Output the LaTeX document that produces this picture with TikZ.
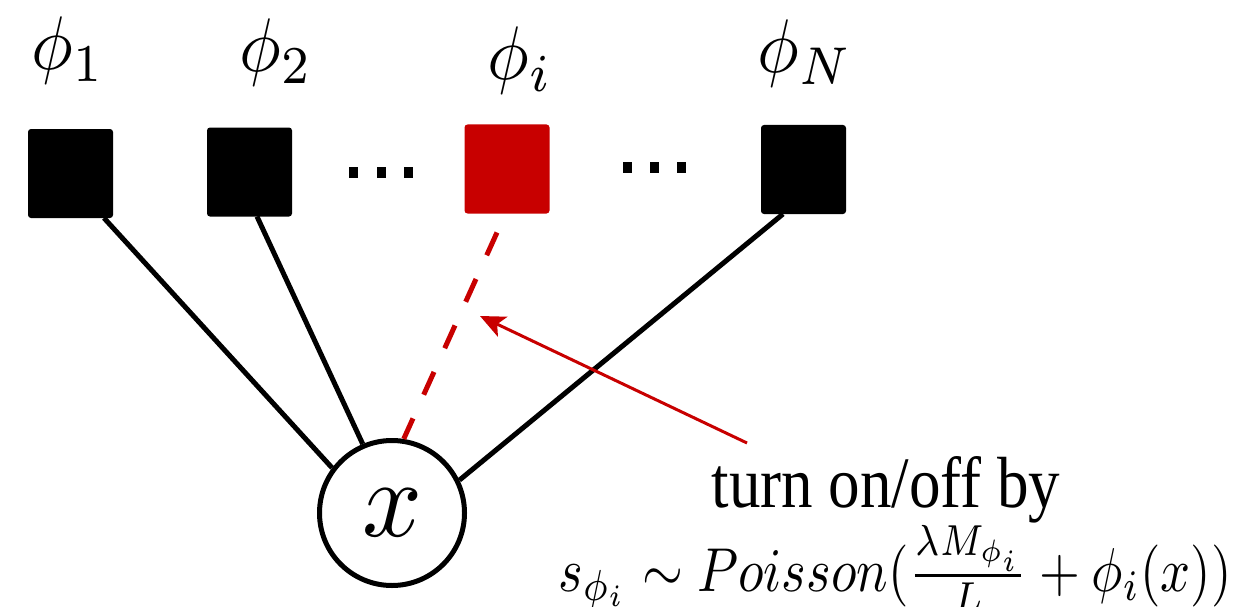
\documentclass[tikz,border=0pt]{standalone}
\usepackage{fontspec}
\newfontfamily\tnr{Liberation Serif}
\usetikzlibrary{arrows.meta}
\definecolor{dred}{RGB}{200,0,0}
\tikzset{
 fac/.style={draw=none, fill=black, rounded corners=3pt, minimum width=85pt, minimum height=89pt, inner sep=0pt, outer sep=0pt},
 lab/.style={anchor=base, inner sep=0pt},
 edge/.style={line width=5pt},
 dotsq/.style={fill=black, minimum width=9pt, minimum height=11pt, inner sep=0pt},
}
\begin{document}
\begin{tikzpicture}[x=1pt,y=-1pt]
\useasboundingbox (0,0) rectangle (1241,607);
% factor squares
\node[fac] (s1) at (70.5,173.5) {};
\node[fac] (s2) at (249.5,172) {};
\node[fac, fill=dred] (si) at (507,169) {};
\node[fac] (sN) at (803.5,169.5) {};
% labels
\node[lab] (l1) at (68.5,70) {\scalebox{7}[7.6]{$\phi_1$}};
\node[lab] (l2) at (276.5,72) {\scalebox{7}[7.6]{$\phi_2$}};
\node[lab] (li) at (520,80) {\scalebox{7}[7.6]{$\phi_i$}};
\node[lab] (lN) at (805,73) {\scalebox{7}[7.6]{$\phi_N$}};
% dots
\node[dotsq] (a1) at (353.5,172.5) {};
\node[dotsq] (a2) at (381.5,172.5) {};
\node[dotsq] (a3) at (408.5,172.5) {};
\node[dotsq] (b1) at (627.5,167.5) {};
\node[dotsq] (b2) at (654.5,167.5) {};
\node[dotsq] (b3) at (681.5,167.5) {};
% variable node
\node[circle, draw, line width=5pt, minimum size=145pt, inner sep=0pt] (xn) at (392,513) {\scalebox{10.5}[11]{$x$}};
% edges
\draw[edge] ([xshift=-9pt]s1.south east) -- (xn.143);
\draw[edge] ([xshift=7.5pt]s2.south) -- (xn.113);
\draw[edge] ([xshift=-20.5pt]sN.south) -- (xn.26);
\draw[edge, dred, dash pattern=on 25pt off 26pt] ([xshift=-10pt,yshift=-19pt]si.south) -- (xn.81);
% arrow
\coordinate (atail) at (747,443);
\coordinate (atip) at (480,316);
\draw[dred, line width=3pt, -{Stealth[length=25pt,width=22pt,inset=6pt]}] (atail) -- (atip);
% texts
\node[anchor=base, inner sep=0pt, font=\tnr\fontsize{63}{70}\selectfont] (t1) at (886,507) {\scalebox{1}[1.15]{turn on/off by}};
\node[anchor=base, inner sep=0pt] (f1) at (895,591) {\scalebox{5.25}[6.2]{$s_{\phi_i} \sim Poisson(\frac{\lambda M_{\phi_i}}{L} + \phi_i(x))$}};
\end{tikzpicture}
\end{document}
